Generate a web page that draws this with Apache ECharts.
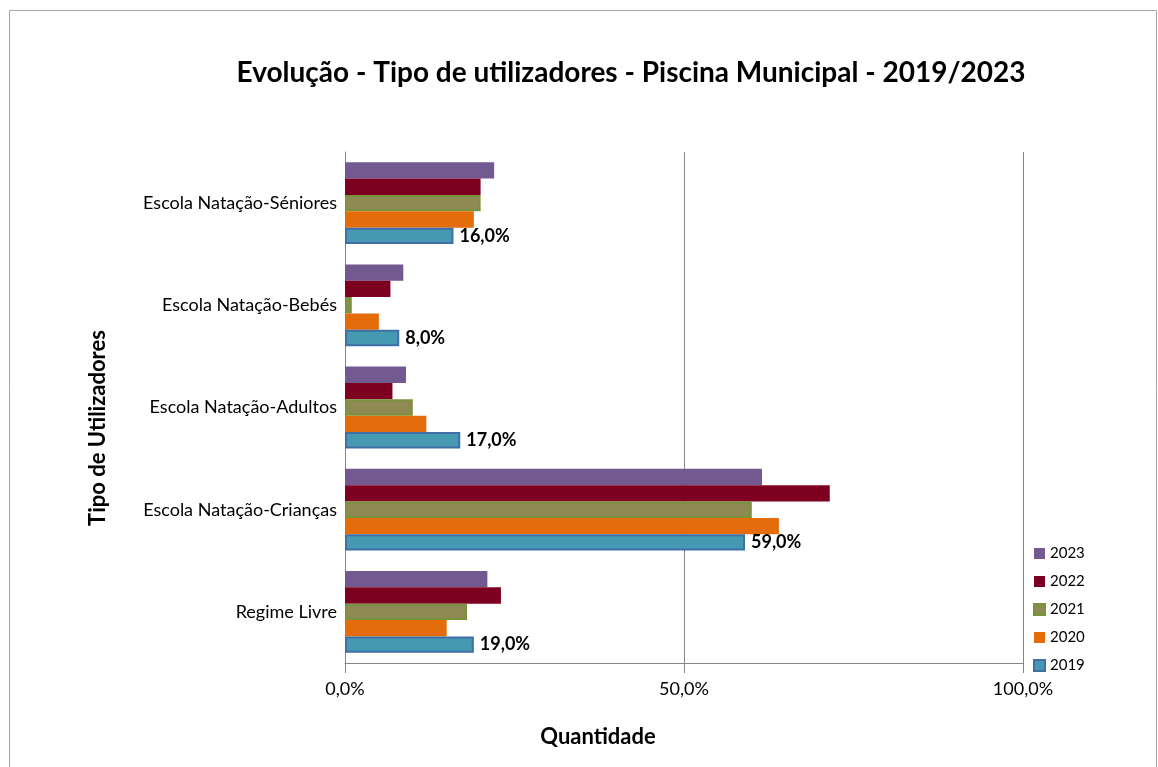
<!DOCTYPE html>
<html>
<head>
<meta charset="utf-8">
<script src="https://cdn.jsdelivr.net/npm/echarts@6/dist/echarts.min.js"></script>
<style>
  html, body { margin: 0; padding: 0; background: #fff; }
  #chart { width: 1158px; height: 767px; }
</style>
</head>
<body>
<div id="chart"></div>
<script>
  // categories from bottom to top
  const categories = [
    'Regime Livre',
    'Escola Natação-Crianças',
    'Escola Natação-Adultos',
    'Escola Natação-Bebés',
    'Escola Natação-Séniores'
  ];
  const years = ['2023', '2022', '2021', '2020', '2019'];
  const values2019 = [19, 59, 17, 8, 16];
  const values2020 = [15, 64, 12, 5, 19];
  const values2021 = [18, 60, 10, 1, 20];
  const values2022 = [23, 71.5, 7, 6.7, 20];
  const values2023 = [21, 61.5, 9, 8.6, 22];
  const xTicks = [0, 50, 100];

  const FONT = 'Lato';
  const pct = (v) => Number(v).toFixed(1).replace('.', ',') + '%';

  const colors = {
    '2023': '#725990',
    '2022': '#7e0021',
    '2021': '#8f8a54',
    '2020': '#e46c0a',
    '2019': '#4599b1'
  };
  const borders = {
    '2021': '#77933c',
    '2019': '#3f6fa6'
  };
  const dataByYear = {
    '2019': values2019,
    '2020': values2020,
    '2021': values2021,
    '2022': values2022,
    '2023': values2023
  };

  const series = years.map((y) => ({
    name: y,
    type: 'bar',
    data: dataByYear[y],
    barGap: '0%',
    barCategoryGap: '20%',
    itemStyle: {
      color: colors[y],
      borderColor: borders[y] || colors[y],
      borderWidth: borders[y] ? 2 : 0
    },
    label: {
      show: y === '2019',
      position: 'right',
      distance: 6,
      formatter: (p) => pct(p.value),
      fontFamily: FONT,
      fontWeight: 'bold',
      fontSize: 18,
      color: '#000'
    }
  }));

  const chart = echarts.init(document.getElementById('chart'));
  chart.setOption({
    animation: false,
    textStyle: { fontFamily: FONT },
    title: {
      text: 'Evolução - Tipo de utilizadores - Piscina Municipal - 2019/2023',
      left: 626,
      textAlign: 'center',
      top: 54,
      textStyle: { fontFamily: FONT, fontWeight: 'bold', fontSize: 28, color: '#000' }
    },
    legend: {
      orient: 'vertical',
      left: 1028,
      top: 541,
      itemGap: 13,
      itemWidth: 11,
      itemHeight: 11,
      icon: 'rect',
      data: years,
      textStyle: { fontFamily: FONT, fontSize: 15, color: '#000' }
    },
    grid: { left: 345, right: 135, top: 152, bottom: 104 },
    xAxis: {
      type: 'value',
      min: xTicks[0],
      max: xTicks[xTicks.length - 1],
      interval: 50,
      axisLine: { show: true, lineStyle: { color: '#868686', width: 1 } },
      axisTick: { show: true, length: 10, lineStyle: { color: '#868686' } },
      splitLine: { show: true, lineStyle: { color: '#868686', width: 1 } },
      axisLabel: { formatter: pct, fontFamily: FONT, fontSize: 18, color: '#000', margin: 17 }
    },
    yAxis: {
      type: 'category',
      data: categories,
      axisLine: { show: true, lineStyle: { color: '#868686', width: 1 } },
      axisTick: { show: false },
      axisLabel: { fontFamily: FONT, fontSize: 18, color: '#000', margin: 8 }
    },
    graphic: [
      {
        type: 'rect',
        shape: { x: 9.5, y: 10.5, width: 1147, height: 770 },
        style: { fill: 'none', stroke: '#a6a6a6', lineWidth: 1 },
        silent: true
      },
      {
        type: 'text',
        x: 598,
        y: 737,
        style: {
          text: 'Quantidade',
          fontFamily: FONT,
          fontWeight: 'bold',
          fontSize: 22,
          fill: '#000',
          align: 'center',
          verticalAlign: 'middle'
        }
      },
      {
        type: 'text',
        x: 98,
        y: 428,
        rotation: Math.PI / 2,
        style: {
          text: 'Tipo de Utilizadores',
          fontFamily: FONT,
          fontWeight: 'bold',
          fontSize: 22,
          fill: '#000',
          align: 'center',
          verticalAlign: 'middle'
        }
      }
    ],
    series: series
  });
</script>
</body>
</html>
